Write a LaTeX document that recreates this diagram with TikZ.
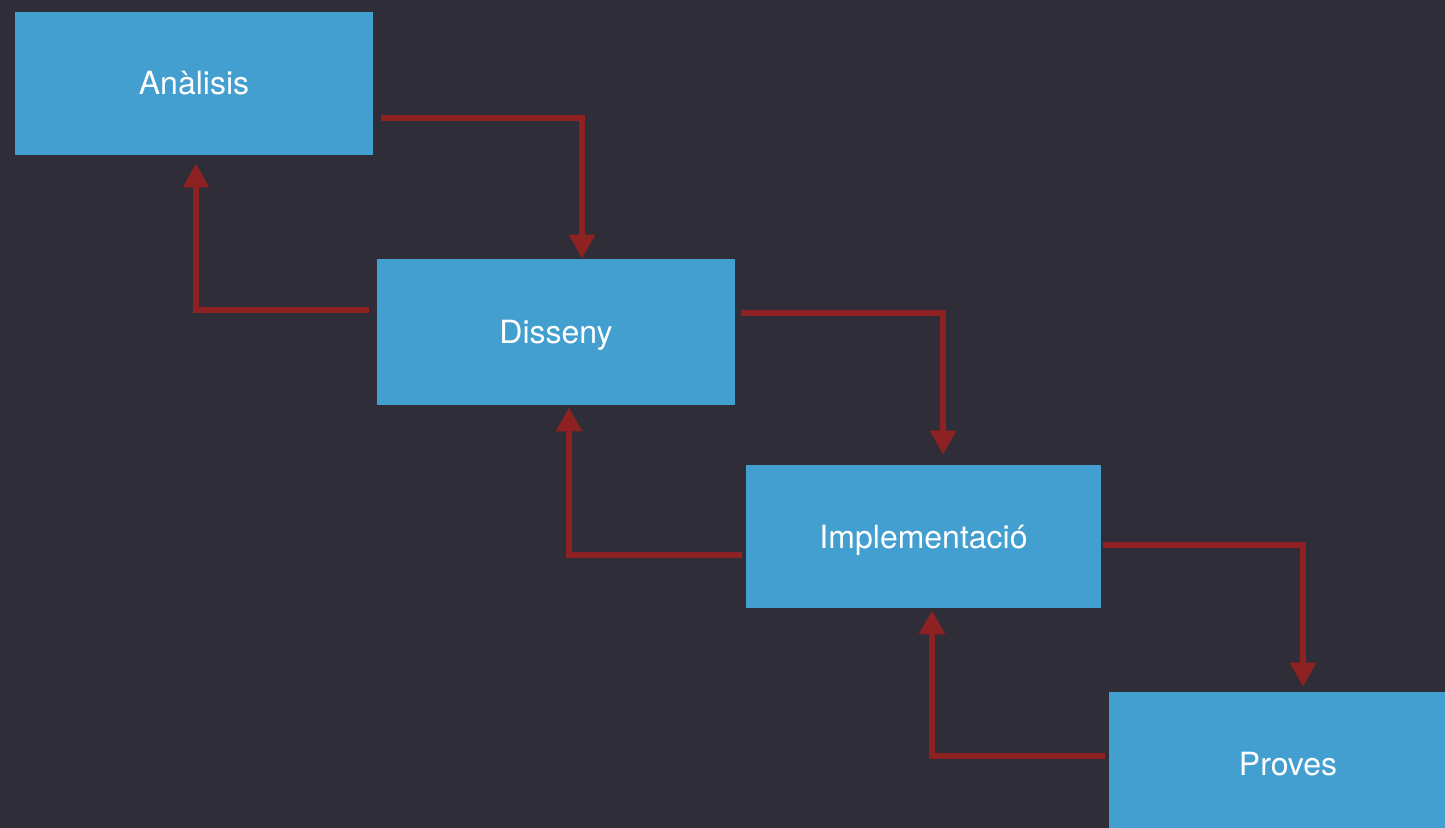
\documentclass[tikz,border=0pt]{standalone}
\usepackage{fontspec}
\setmainfont{TeX Gyre Heros}
\usetikzlibrary{arrows.meta,calc}

\definecolor{slate}{HTML}{2F2E38}
\definecolor{phaseblue}{HTML}{439FCF}
\definecolor{flowred}{HTML}{8E2222}

\tikzset{
  phase/.style={fill=phaseblue, text=white, minimum width=179pt, minimum height=71.5pt,
    inner sep=0pt, text height=14.5pt, text depth=3pt, font=\fontsize{16}{19}\selectfont},
  flow/.style={draw=flowred, line width=2.8pt, -{Triangle[width=12.5pt,length=12pt]}}
}

\begin{document}
\begin{tikzpicture}[x=0.5pt, y=-0.5pt]
  % background
  \fill[slate] (0,0) rectangle (1445,828);
  \useasboundingbox (0,0) rectangle (1445,828);

  % phases
  \node[phase] (ana) at (194,83.5) {Anàlisis};
  \node[phase, minimum height=73pt] (dis) at (556,332) {Disseny};
  \node[phase, minimum width=177.5pt] (imp) at (923.5,536.5) {Implementació};
  \node[phase] (pro) at (1288,763.5) {Proves};

  % forward arrows
  \draw[flow] ($(ana.east)+(8,34.5)$) -| ($(dis.north)+(26,0)$);
  \draw[flow] ($(dis.east)+(6,-19)$) -| ($(imp.north)+(19.5,-10)$);
  \draw[flow] ($(imp.east)+(2,8.5)$) -| ($(pro.north)+(15,-5)$);

  % feedback arrows
  \draw[flow] ($(dis.west)+(-8,-22)$) -| ($(ana.south)+(2,8)$);
  \draw[flow] ($(imp.west)+(-4,18.5)$) -| ($(dis.south)+(13,2)$);
  \draw[flow] ($(pro.west)+(-4,-7.5)$) -| ($(imp.south)+(8.5,2)$);
\end{tikzpicture}
\end{document}
